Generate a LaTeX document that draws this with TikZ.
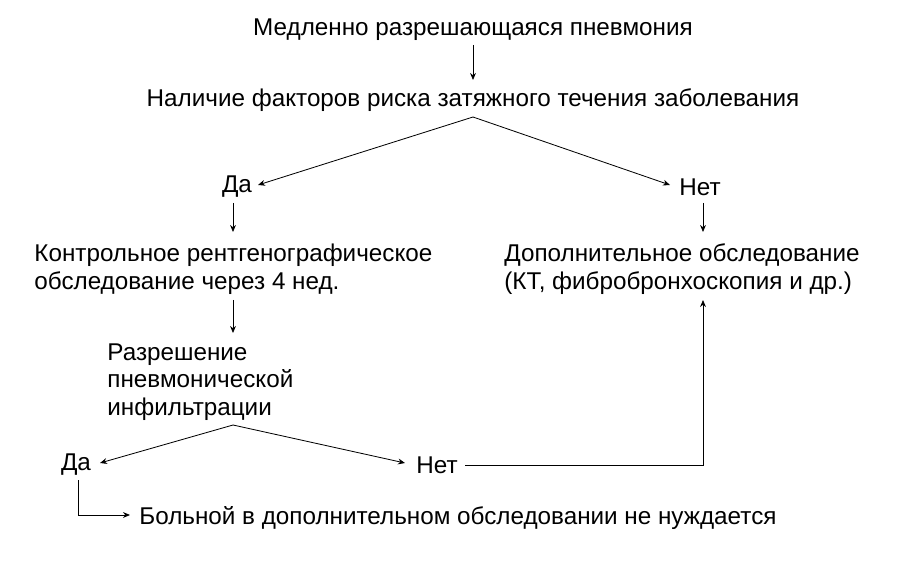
\documentclass[tikz,border=0pt]{standalone}
\usepackage{fontspec}
\setmainfont{Liberation Sans}
\usetikzlibrary{arrows.meta}
\begin{document}
\begin{tikzpicture}[x=0.03cm,y=-0.03cm,
  t/.style={font=\fontsize{20.7}{23.5}\selectfont, inner sep=1pt},
  ln/.style={line width=0.7pt},
  ar/.style={ln,-{Stealth[length=6pt,width=5pt]}}]
\useasboundingbox (0,0) rectangle (900,570);
\node[t] (title) at (473,30) {Медленно разрешающаяся пневмония};
\node[t] (risk) at (473,100) {Наличие факторов риска затяжного течения заболевания};
\node[t] (da1) at (237,187) {Да};
\node[t] (net1) at (700,187) {Нет};
\node[t,anchor=west,align=left] (ctrl) at (33,269) {Контрольное рентгенографическое\\обследование через 4 нед.};
\node[t,anchor=west,align=left] (add) at (503,269) {Дополнительное обследование\\(КТ, фибробронхоскопия и др.)};
\node[t,anchor=west,align=left] (res) at (106,382) {Разрешение\\пневмонической\\инфильтрации};
\node[t] (da2) at (76,465) {Да};
\node[t] (net2) at (437,465) {Нет};
\node[t,anchor=west] (ok) at (138,518) {Больной в дополнительном обследовании не нуждается};
\coordinate (s1) at (473,117);
\coordinate (s2) at (233,425);
\draw[ar] (473,45) -- (473,80);
\draw[ar] (s1) -- (258,185);
\draw[ar] (s1) -- (670,185);
\draw[ar] (233,203) -- (233,232);
\draw[ar] (703,203) -- (703,232);
\draw[ar] (233,300) -- (233,333);
\draw[ar] (s2) -- (100,463);
\draw[ar] (s2) -- (405,463);
\draw[ar] (465,465) -- (703,465) -- (703,300);
\draw[ar] (78,480) -- (78,515) -- (130,515);
\end{tikzpicture}
\end{document}
